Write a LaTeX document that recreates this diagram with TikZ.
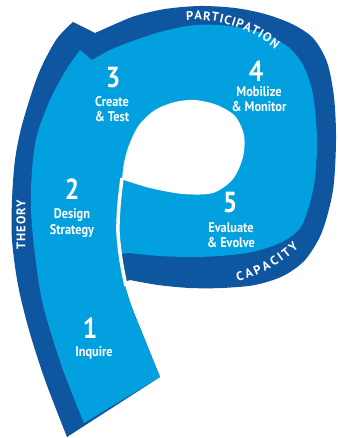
\documentclass[tikz,border=0pt]{standalone}
\usepackage{fontspec}
\setmainfont{PT Sans}
\newfontfamily\stepfont[FakeStretch=0.88]{PT Sans}
\newfontfamily\rimfont[LetterSpace=9]{PT Sans}
\usetikzlibrary{decorations.text}
\definecolor{ringblue}{RGB}{14,86,160}
\definecolor{padblue}{RGB}{2,160,222}

\begin{document}
\begin{tikzpicture}[x=1pt,y=-1pt]
 \tikzset{num/.style={text=white, font=\stepfont\bfseries\fontsize{29}{29}\selectfont},
   stage/.style={text=white, align=center, font=\stepfont\bfseries\fontsize{14}{15.5}\selectfont},
   rim/.style={text=white, font=\rimfont\bfseries\fontsize{12.5}{12.5}\selectfont},
   rimpath/.style={decorate, decoration={text along path, text align=fit to path,
     text color=white, text={|\rmfamily\bfseries\fontsize{12.5}{12.5}\selectfont|#1}}}}
  \useasboundingbox (0,0) rectangle (337,438);
  % outer dark band
  \fill[ringblue] plot[smooth] coordinates {(67,437) (45,380) (29,330) (18,285) (12,240) (12,200) (15,160) (22,125) (38,75) (56,40) (73,22)}
    -- (95,33)
    -- plot[smooth] coordinates {(95,33) (113,25) (135,16) (165,9) (200,6) (235,8) (265,14) (292,24) (313,38) (327,62) (334,97) (336,140) (333,190) (322,232) (305,260) (283,276) (255,285) (222,288) (190,288) (158,285) (130,280)}
    -- (124,282)
    -- plot[smooth] coordinates {(124,282) (131,305) (145,340) (160,377)} -- cycle;
  % light body
  \fill[padblue] plot[smooth] coordinates {(84,423) (62,367) (43,305) (35,255) (31,210) (32,170) (37,135) (50,100) (66,70) (80,50)}
    -- (92,60)
    -- plot[smooth] coordinates {(92,60) (110,50) (130,42) (160,32) (195,25) (230,26) (262,33) (287,46) (303,65) (313,95) (317,140) (314,185) (302,225) (282,242) (252,252) (220,256) (190,257) (160,256) (128,253)}
    -- (121,254)
    -- plot[smooth] coordinates {(121,254) (122,270) (124,282) (131,305) (145,340) (160,377)} -- cycle;
  % counter of the p
  \fill[white] plot[smooth] coordinates {(124,180) (150,188) (183,194) (213,193) (233,179) (243,157) (244,135) (235,116) (217,105) (195,100) (175,102) (155,110) (139,125) (129,145) (124,163) (122,180)} -- cycle;
  \draw[white, line width=3.5] plot[smooth] coordinates {(122,178) (119,205) (118,232) (121,260) (126,286)};
  % rim words
  \path[rimpath=PARTICIPATION] (186.3,20.3) arc[start angle=-94, end angle=-50, radius=125];
  \path[rimpath=CAPACITY] (237.7,281) arc[start angle=76, end angle=46, radius=135];
  \node[rim, rotate=90] (theory) at (21,225) {THEORY};
  % stages
  \node[num] (n1) at (90,328) {1};
  \node[stage] (t1) at (94,353) {Inquire};
  \node[num] (n2) at (72,189) {2};
  \node[stage] (t2) at (72,223) {Design\\Strategy};
  \node[num] (n3) at (113,78) {3};
  \node[stage] (t3) at (112,109) {Create\\\& Test};
  \node[num] (n4) at (256,71) {4};
  \node[stage] (t4) at (259,99) {Mobilize\\\& Monitor};
  \node[num] (n5) at (230,203) {5};
  \node[stage] (t5) at (231,235) {Evaluate\\\& Evolve};
\end{tikzpicture}
\end{document}
